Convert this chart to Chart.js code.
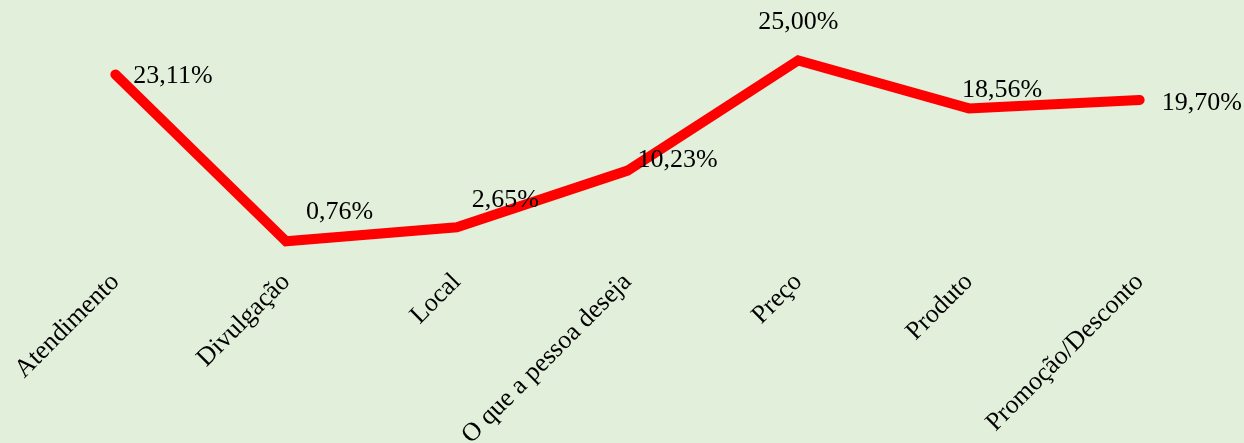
<!DOCTYPE html>
<html>
<head>
<meta charset="utf-8">
<script src="https://cdn.jsdelivr.net/npm/chart.js@4/dist/chart.umd.min.js"></script>
<style>
  html, body { margin:0; padding:0; background:#E2EFDA; }
  #wrap { width:1244px; height:443px; }
</style>
</head>
<body>
<div id="wrap"><canvas id="chart" width="1244" height="443"></canvas></div>
<script>
// Dados
const categorias = ["Atendimento", "Divulgação", "Local", "O que a pessoa deseja", "Preço", "Produto", "Promoção/Desconto"];
const valores    = [23.11, 0.76, 2.65, 10.23, 25.00, 18.56, 19.70];
const rotulos    = ["23,11%", "0,76%", "2,65%", "10,23%", "25,00%", "18,56%", "19,70%"];

// Deslocamento dos rótulos (dx, dy) relativo ao ponto
const labelOffsets = [[18, 2], [20, -29], [15, -27], [10, -10], [0, -38], [-7, -18], [22, 3]];

const FONT = "'Liberation Serif', 'Times New Roman', serif";

const dataLabels = {
  id: "dataLabels",
  afterDatasetsDraw(chart) {
    const ctx = chart.ctx;
    const meta = chart.getDatasetMeta(0);
    ctx.save();
    ctx.font = `26px ${FONT}`;
    ctx.fillStyle = "#000";
    ctx.textBaseline = "middle";
    meta.data.forEach((pt, i) => {
      const [dx, dy] = labelOffsets[i];
      ctx.textAlign = dx === 0 ? "center" : "left";
      ctx.fillText(rotulos[i], pt.x + dx, pt.y + dy);
    });
    ctx.restore();
  }
};

new Chart(document.getElementById("chart"), {
  type: "line",
  data: {
    labels: categorias,
    datasets: [{
      data: valores,
      borderColor: "#FF0000",
      borderWidth: 10,
      borderCapStyle: "round",
      borderJoinStyle: "miter",
      pointRadius: 0,
      tension: 0,
      fill: false
    }]
  },
  options: {
    responsive: false,
    animation: false,
    layout: { padding: { left: 30, right: 19, top: 23, bottom: 0 } },
    plugins: { legend: { display: false }, tooltip: { enabled: false } },
    scales: {
      x: {
        offset: true,
        grid: { display: false },
        border: { display: false },
        ticks: {
          color: "#000",
          font: { family: FONT, size: 26 },
          minRotation: 45,
          maxRotation: 45,
          autoSkip: false,
          padding: 12
        },
        afterFit: s => { s.height = 196; s.paddingLeft = 0; s.paddingRight = 0; }
      },
      y: { display: false, min: 0, max: 30 }
    }
  },
  plugins: [dataLabels]
});
</script>
</body>
</html>
